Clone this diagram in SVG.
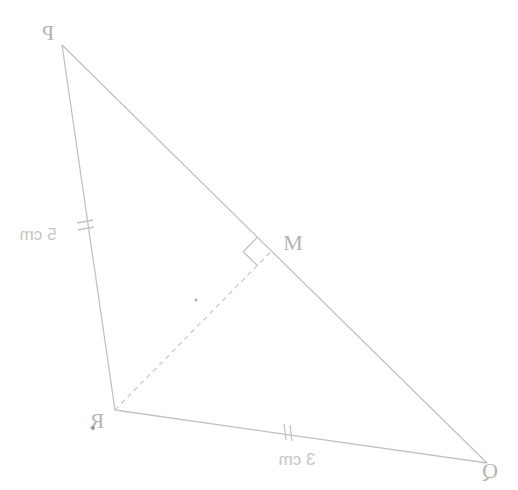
<svg xmlns="http://www.w3.org/2000/svg" width="518" height="490" viewBox="0 0 518 490">
<style>
.ln{stroke:#c2c2c2;stroke-width:1.3;fill:none}
.dash{stroke:#cdcdcd;stroke-width:1.4;fill:none;stroke-dasharray:5 4}
.lbl{font-family:"Liberation Serif",serif;font-size:22px;fill:#b4b4b4}
.dim{font-family:"Liberation Sans",sans-serif;font-size:17px;fill:#c6c6c6}
</style>
<rect width="518" height="490" fill="#ffffff"/>
<g id="connectors">
<line class="ln" x1="62" y1="45" x2="487" y2="463"/>
<line class="ln" x1="62" y1="45" x2="115" y2="410"/>
<line class="ln" x1="115" y1="410" x2="487" y2="463"/>
<line class="dash" x1="115" y1="410" x2="271.5" y2="251"/>
<polyline class="ln" points="257.2,237.5 243.2,251.7 257.5,265.8"/>
<line class="ln" x1="77" y1="223" x2="93" y2="220"/>
<line class="ln" x1="78" y1="230" x2="94" y2="227"/>
<line class="ln" x1="284" y1="424" x2="286" y2="440"/>
<line class="ln" x1="290" y1="425" x2="292" y2="441"/>
<circle cx="196" cy="300" r="1.5" fill="#aaa"/>
</g>
<g id="node-P"><text class="lbl" transform="translate(48,40) scale(-1,1)" text-anchor="middle">P</text></g>
<g id="node-M"><text class="lbl" x="293" y="250" text-anchor="middle">M</text></g>
<g id="node-R"><text class="lbl" transform="translate(97,428) scale(-1,1)" text-anchor="middle">R</text><circle cx="93" cy="428" r="2" fill="#999"/></g>
<g id="node-Q"><text class="lbl" transform="translate(490,478) scale(-1,1)" text-anchor="middle">Q</text></g>
<g id="label-PR"><text class="dim" transform="translate(38,240) scale(-1,1)" text-anchor="middle">5 cm</text></g>
<g id="label-RQ"><text class="dim" transform="translate(297,465) scale(-1,1)" text-anchor="middle">3 cm</text></g>
</svg>
